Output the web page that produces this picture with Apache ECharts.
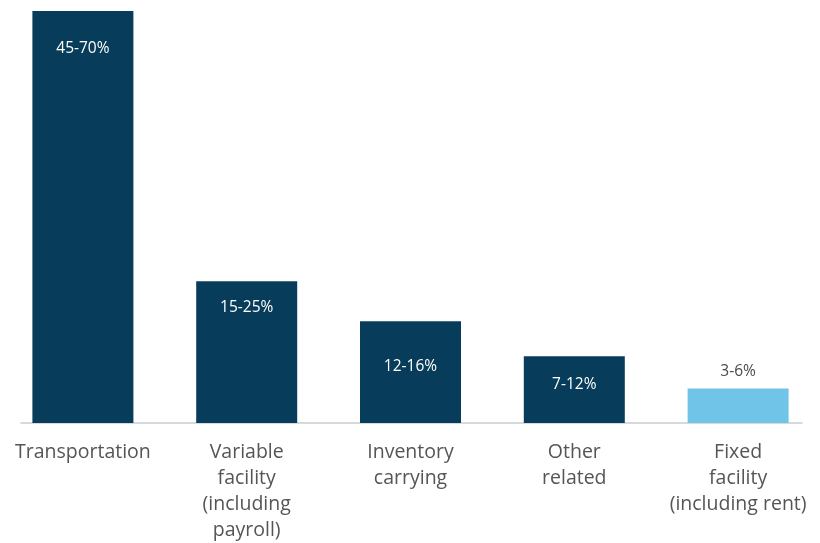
<!DOCTYPE html>
<html>
<head>
<meta charset="utf-8">
<script src="https://cdn.jsdelivr.net/npm/echarts@6/dist/echarts.min.js"></script>
<style>
  html, body { margin: 0; padding: 0; background: #ffffff; }
  #chart { width: 820px; height: 543px; }
</style>
</head>
<body>
<div id="chart"></div>
<script>
// Cost categories of a logistics budget
const categories = [
  'Transportation',
  'Variable\nfacility\n(including\npayroll)',
  'Inventory\ncarrying',
  'Other\nrelated',
  'Fixed\nfacility\n(including rent)'
];
// Share ranges (percent) printed on the bars
const rangeLow = [45, 15, 12, 7, 3];
const rangeHigh = [70, 25, 16, 12, 6];
// Bar heights (percent of spend)
const shareValues = [57.5, 19.8, 14.2, 9.3, 4.8];

const NAVY = '#073c5a';
const SKY = '#70c4e8';
const FONT = '"Open Sans", Roboto, "DejaVu Sans", sans-serif';

// per-bar label placement
const labelStyles = [
  { position: 'insideTop', distance: 30, color: '#ffffff' },
  { position: 'insideTop', distance: 18, color: '#ffffff' },
  { position: 'insideTop', distance: 37, color: '#ffffff' },
  { position: 'insideTop', distance: 20, color: '#ffffff' },
  { position: 'top', distance: 9, color: '#4a4a4a' }
];
const barColors = [NAVY, NAVY, NAVY, NAVY, SKY];

const seriesData = shareValues.map((v, i) => ({
  value: v,
  itemStyle: { color: barColors[i] },
  label: Object.assign({
    show: true,
    formatter: rangeLow[i] + '-' + rangeHigh[i] + '%',
    fontSize: 15.5,
    fontFamily: FONT
  }, labelStyles[i])
}));

const chart = echarts.init(document.getElementById('chart'), null, { renderer: 'canvas' });
chart.setOption({
  animation: false,
  backgroundColor: '#ffffff',
  grid: [
    { left: 1, right: -3, top: 11, bottom: 120, containLabel: false },
    { left: 21, right: 18, top: 11, bottom: 120, containLabel: false }
  ],
  xAxis: [
    {
      type: 'category',
      gridIndex: 0,
      data: categories,
      axisLine: { show: false },
      axisTick: { show: false },
      axisLabel: {
        interval: 0,
        margin: 16,
        fontSize: 19.5,
        lineHeight: 26,
        color: '#555555',
        fontFamily: FONT,
        align: 'center'
      }
    },
    {
      type: 'value',
      gridIndex: 1,
      min: 0,
      max: 1,
      axisLine: { show: true, lineStyle: { color: '#c9ced2', width: 1.5 } },
      axisTick: { show: false },
      axisLabel: { show: false },
      splitLine: { show: false }
    }
  ],
  yAxis: [
    {
      type: 'value',
      gridIndex: 0,
      min: 0,
      max: 57.5,
      show: false,
      splitLine: { show: false }
    },
    {
      type: 'value',
      gridIndex: 1,
      min: 0,
      max: 1,
      show: false
    }
  ],
  series: [
    {
      type: 'bar',
      xAxisIndex: 0,
      yAxisIndex: 0,
      barWidth: 101,
      data: seriesData
    }
  ]
});
</script>
</body>
</html>
